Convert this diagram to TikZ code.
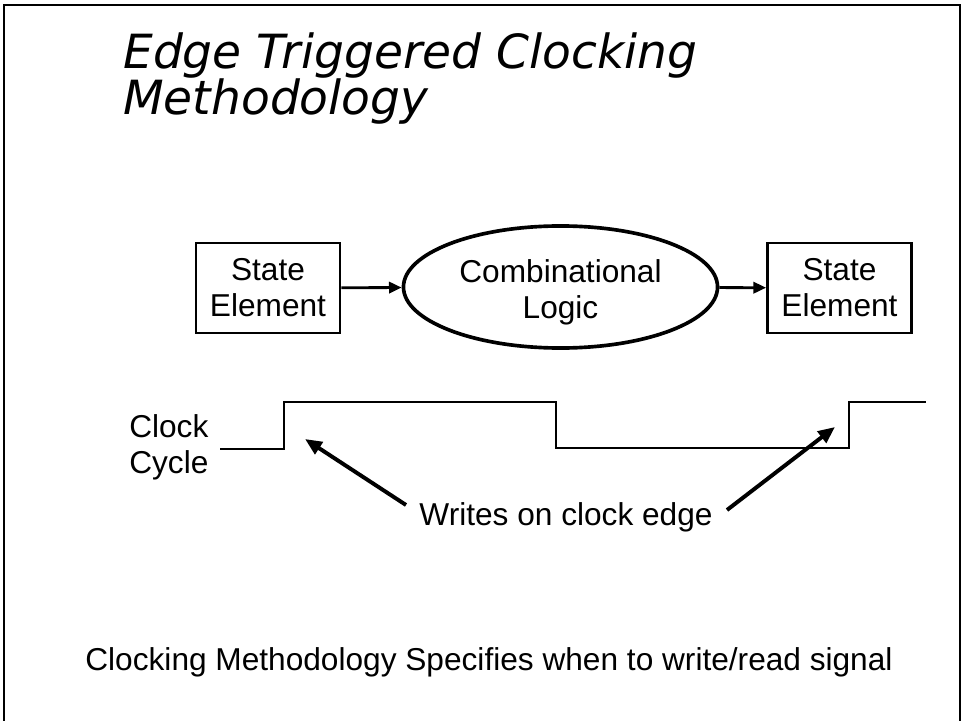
\documentclass[tikz,border=0pt]{standalone}
\usepackage{fontspec}
\setmainfont{Liberation Sans}
\newfontfamily\titlefont{DejaVu Sans}
\usetikzlibrary{shapes.geometric,arrows.meta,positioning}

\tikzset{
  stateel/.style={draw, line width=2pt, inner sep=0pt, minimum width=3.6cm, minimum height=2.25cm, align=center},
  comblogic/.style={draw, ellipse, line width=2.6pt, inner sep=0pt, minimum width=7.85cm, minimum height=3.05cm, align=center, text height=50pt},
  flow/.style={-{Triangle[length=9pt,width=8pt]}, line width=2pt},
  callout/.style={-{Triangle[length=12pt,width=10pt]}, line width=2.8pt},
  clk/.style={line width=1pt}
}

\begin{document}
\begin{tikzpicture}[x=0.025cm, y=-0.025cm, font=\fontsize{22.5}{25.6}\selectfont]
    \useasboundingbox (0,0) rectangle (965,721);

    % Draw the frame
    \draw[line width=2pt] (4,721) -- (4,5) -- (960,5) -- (960,721);

    % Title
    \node[anchor=base west, align=left, inner sep=0pt, font=\titlefont\itshape\fontsize{33.5}{31.6}\selectfont] (title) at (123,115)
        {Edge Triggered Clocking\\Methodology};

    % Draw state elements and logic
    \node[stateel] (se1) at (268,288) {State\\Element};
    \node[comblogic] (cl) at (560.5,287) {Combinational\\Logic};
    \node[stateel] (se2) at (839.5,288) {State\\Element};

    \draw[flow] (se1) -- (cl);
    \draw[flow] (cl) -- (se2);

    % Draw the clock
    \node[anchor=west, align=left, inner sep=0pt] (clklabel) at (129,447) {Clock\\Cycle};
    \draw[clk] (220,449) -- (284,449) -- (284,402) -- (556,402) -- (556,448) -- (849,448) -- (849,402) -- (926,402);

    % Writes on clock edge
    \node (wr) at (566,517) {Writes on clock edge};
    \coordinate (tailL) at (406,505);
    \coordinate (tipL) at (305,439);
    \coordinate (tailR) at (727,510);
    \coordinate (tipR) at (835,427);
    \draw[callout] (tailL) -- (tipL);
    \draw[callout] (tailR) -- (tipR);

    % Bottom note
    \node (note) at (489,662) {Clocking Methodology Specifies when to write/read signal};
\end{tikzpicture}
\end{document}
